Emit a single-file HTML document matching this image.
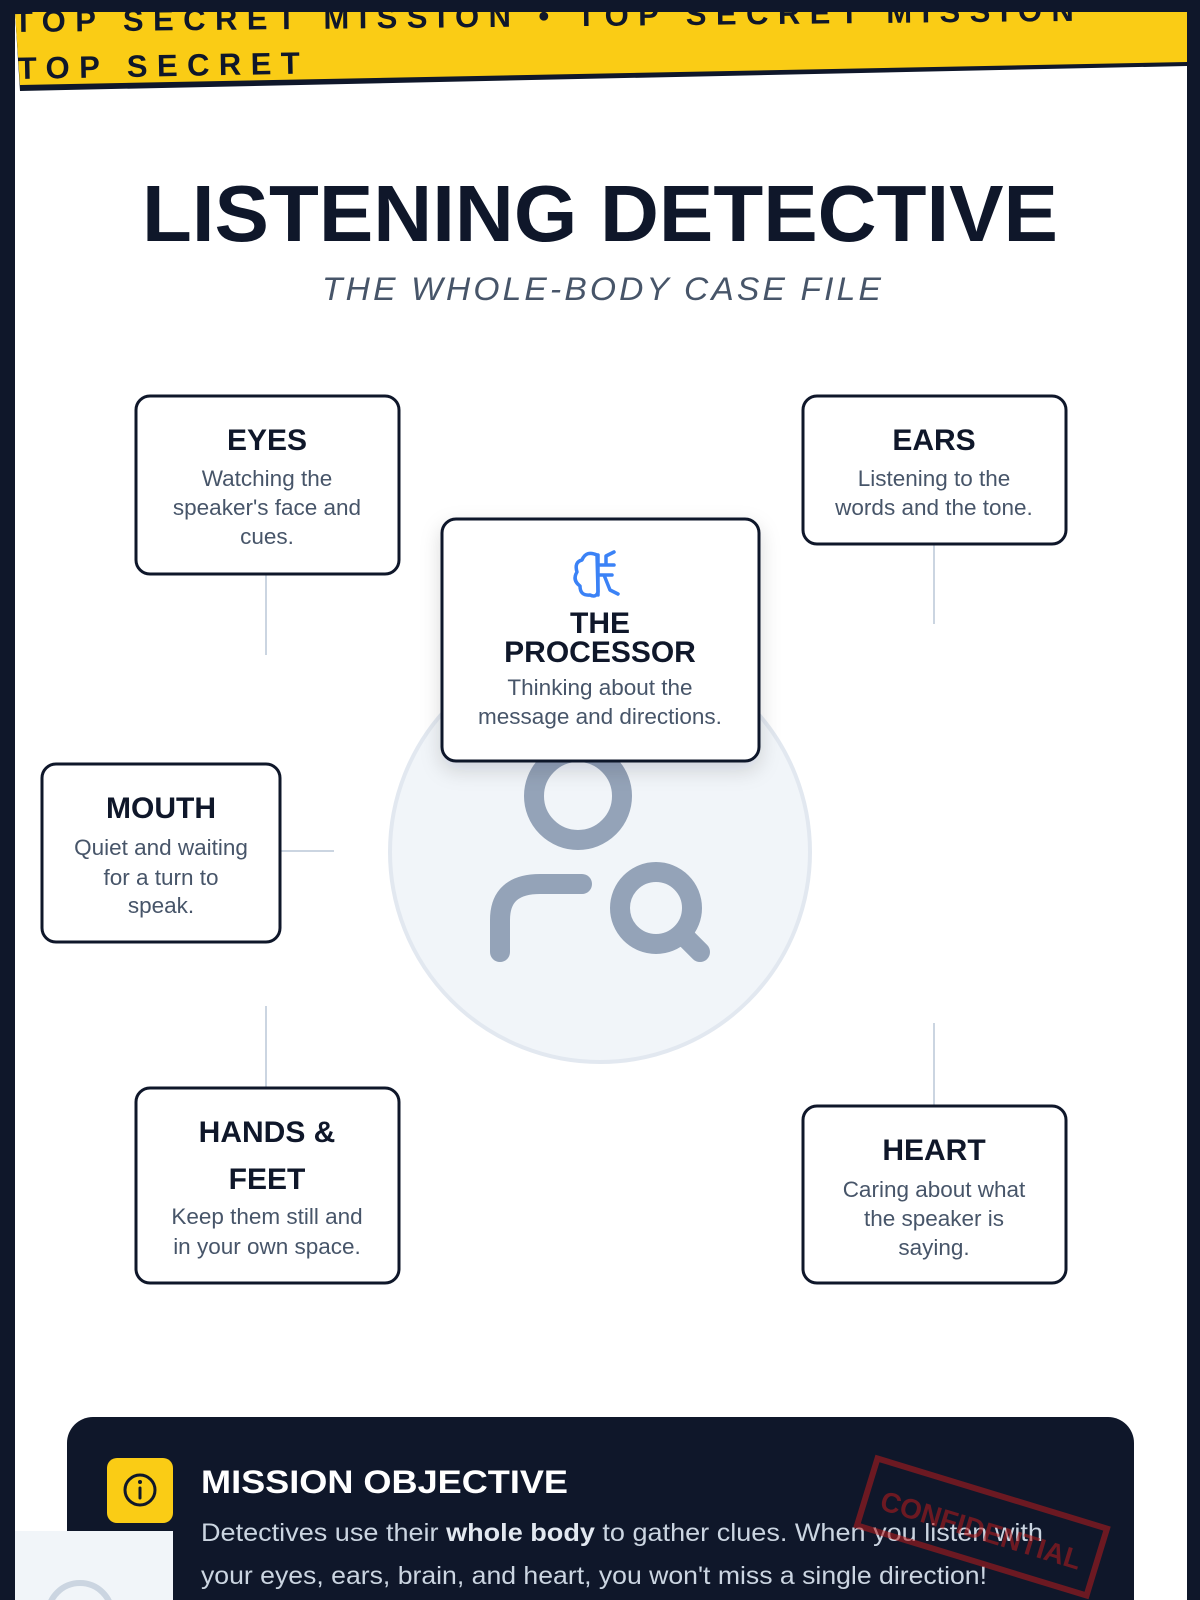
<!DOCTYPE html>
<html><head><meta charset="utf-8"><style>
html,body{margin:0;padding:0;background:#0f172a;}
svg{display:block;}
</style></head><body>
<svg width="1200" height="1600" viewBox="0 0 1200 1600" xmlns="http://www.w3.org/2000/svg" font-family="Liberation Sans, sans-serif">
<defs>
<filter id="sh" x="-20%" y="-20%" width="140%" height="150%"><feDropShadow dx="0" dy="8" stdDeviation="10" flood-color="#0f172a" flood-opacity="0.15"/></filter>
<clipPath id="pg"><rect x="15" y="12" width="1172" height="1588"/></clipPath>
</defs>
<rect x="0" y="0" width="1200" height="1600" fill="#0f172a"/>
<rect x="15" y="12" width="1172" height="1588" fill="#ffffff"/>
<g clip-path="url(#pg)">
<polygon points="15,12 1187,12 1187,66 20,91" fill="#0f172a"/>
<polygon points="15,12 1187,12 1187,62 20,85" fill="#facc15"/>
<g fill="#0f172a" font-weight="900" font-size="31">
<text x="14" y="32" textLength="1060" lengthAdjust="spacing" transform="rotate(-0.6 14 32)">TOP SECRET MISSION • TOP SECRET MISSION</text>
<text x="18" y="79" textLength="282" lengthAdjust="spacing" transform="rotate(-1.1 20 80)">TOP SECRET</text>
</g>
<text x="600" y="241" text-anchor="middle" font-size="80" font-weight="900" fill="#0f172a" textLength="916" lengthAdjust="spacingAndGlyphs">LISTENING DETECTIVE</text>
<text x="603" y="300" text-anchor="middle" font-size="32" font-style="italic" fill="#475569" letter-spacing="3" textLength="562" lengthAdjust="spacingAndGlyphs">THE WHOLE-BODY CASE FILE</text>
<circle cx="600" cy="852" r="210" fill="#f1f5f9" stroke="#e2e8f0" stroke-width="4"/>
<g fill="none" stroke="#94a3b8" stroke-width="20" stroke-linecap="round">
<circle cx="578" cy="796" r="44"/>
<path d="M500 952 V920 Q500 884 540 884 H582"/>
<circle cx="656" cy="908" r="36"/>
<line x1="682" y1="934" x2="700" y2="952"/>
</g>
<g stroke="#cbd5e1" stroke-width="2">
<line x1="266" y1="574" x2="266" y2="655"/>
<line x1="934" y1="544" x2="934" y2="624"/>
<line x1="280" y1="851" x2="334" y2="851"/>
<line x1="266" y1="1006" x2="266" y2="1087"/>
<line x1="934" y1="1023" x2="934" y2="1105"/>
</g>
<g fill="#ffffff" stroke="#0f172a" stroke-width="3">
<rect x="136" y="396" width="263" height="178" rx="14"/>
<rect x="803" y="396" width="263" height="148" rx="14"/>
<rect x="42" y="764" width="238" height="178" rx="14"/>
<rect x="136" y="1088" width="263" height="195" rx="14"/>
<rect x="803" y="1106" width="263" height="177" rx="14"/>
<rect x="442" y="519" width="317" height="242" rx="14" filter="url(#sh)"/>
</g>
<g text-anchor="middle">
<g font-size="30" font-weight="bold" fill="#0f172a">
<text x="267" y="450">EYES</text>
<text x="934" y="450">EARS</text>
<text x="161" y="818">MOUTH</text>
<text x="267" y="1142">HANDS &amp;</text>
<text x="267" y="1189">FEET</text>
<text x="934" y="1160">HEART</text>
<text x="600" y="633">THE</text>
<text x="600" y="662">PROCESSOR</text>
</g>
<g font-size="22.5" fill="#475569">
<text x="267" y="486">Watching the</text>
<text x="267" y="515">speaker's face and</text>
<text x="267" y="544">cues.</text>
<text x="934" y="486">Listening to the</text>
<text x="934" y="515">words and the tone.</text>
<text x="161" y="855">Quiet and waiting</text>
<text x="161" y="885">for a turn to</text>
<text x="161" y="913">speak.</text>
<text x="267" y="1224">Keep them still and</text>
<text x="267" y="1254">in your own space.</text>
<text x="934" y="1197">Caring about what</text>
<text x="934" y="1226">the speaker is</text>
<text x="934" y="1255">saying.</text>
<text x="600" y="695">Thinking about the</text>
<text x="600" y="724">message and directions.</text>
</g>
</g>
<g fill="none" stroke="#3b82f6" stroke-width="3.5" stroke-linecap="round" stroke-linejoin="round">
<path d="M597 555 Q586 550 582 560 Q574 562 577 572 Q572 580 580 586 Q580 596 590 595 Q596 598 598 592 Z"/>
<line x1="598" y1="555" x2="598" y2="595"/>
<path d="M598 565 H614 M598 575 H612 M606 565 L606 556 L614 552 M604 575 L610 590 L618 594"/>
</g>
<rect x="67" y="1417" width="1067" height="220" rx="26" fill="#0f172a"/>
<rect x="107" y="1458" width="66" height="65" rx="10" fill="#facc15"/>
<circle cx="140" cy="1490" r="15" fill="none" stroke="#0f172a" stroke-width="3"/>
<line x1="140" y1="1488" x2="140" y2="1498" stroke="#0f172a" stroke-width="3" stroke-linecap="round"/>
<circle cx="140" cy="1482" r="2" fill="#0f172a"/>
<text x="201" y="1493" font-size="32" font-weight="bold" fill="#ffffff" textLength="367" lengthAdjust="spacingAndGlyphs">MISSION OBJECTIVE</text>
<g font-size="25" fill="#cbd5e1">
<text x="201" y="1541" textLength="842" lengthAdjust="spacingAndGlyphs">Detectives use their <tspan font-weight="bold" fill="#e2e8f0">whole body</tspan> to gather clues. When you listen with</text>
<text x="201" y="1584" textLength="786" lengthAdjust="spacingAndGlyphs">your eyes, ears, brain, and heart, you won't miss a single direction!</text>
</g>
<g transform="rotate(17 982 1527)" opacity="0.55">
<rect x="862" y="1492" width="240" height="70" fill="none" stroke="#b91c1c" stroke-width="6"/>
<text x="982" y="1540" text-anchor="middle" font-size="28" font-weight="900" fill="#b91c1c">CONFIDENTIAL</text>
</g>
<rect x="15" y="1531" width="158" height="80" fill="#f1f5f9"/>
<circle cx="80" cy="1615" r="32" fill="none" stroke="#cbd5e1" stroke-width="6"/>
</g>
</svg>
</body></html>
